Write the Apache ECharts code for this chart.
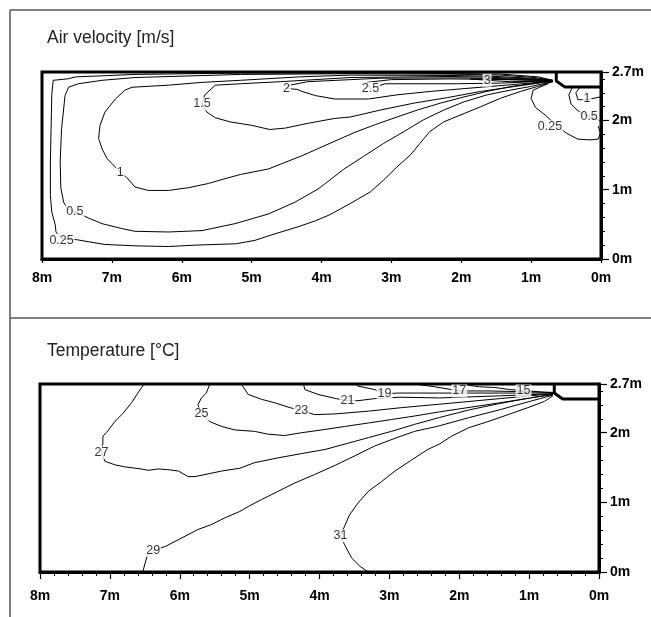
<!DOCTYPE html>
<html><head><meta charset="utf-8">
<script src="https://cdn.jsdelivr.net/npm/echarts@6/dist/echarts.min.js"></script>
<style>html,body{margin:0;padding:0;background:#fff}#c{width:651px;height:617px}</style>
</head><body><div id="c"></div>
<script>
// ---- axis ticks ----
const xTicks = [0,1,2,3,4,5,6,7,8];
const yTickLabels = [0,1,2,2.7];

// ---- Air velocity contours [x m, height m] ----
const v025 = [[0.69,2.58],[0.9,2.63],[1.44,2.67],[2.88,2.685],[4.31,2.685],[5.16,2.685],[6.67,2.665],[7.14,2.645],[7.51,2.63],[7.64,2.60],[7.84,2.58],[7.86,2.37],[7.87,1.88],[7.88,1.40],[7.88,0.92],[7.86,0.68],[7.81,0.49],[7.80,0.39],[7.72,0.29],[7.51,0.28],[7.34,0.25],[7.10,0.21],[6.67,0.19],[6.19,0.18],[5.81,0.20],[5.22,0.22],[4.95,0.27],[4.74,0.34],[4.32,0.47],[4.09,0.55],[3.88,0.64],[3.59,0.80],[3.30,0.97],[3.11,1.14],[2.92,1.33],[2.73,1.50],[2.59,1.67],[2.45,1.84],[2.25,1.98],[1.96,2.10],[1.72,2.20],[1.44,2.32],[1.15,2.42],[0.91,2.49],[0.69,2.56]];
const v05 = [[0.69,2.58],[0.95,2.62],[1.44,2.655],[2.16,2.67],[3.59,2.675],[5.16,2.665],[6.67,2.62],[7.14,2.58],[7.48,2.53],[7.62,2.48],[7.67,2.36],[7.72,1.88],[7.74,1.40],[7.73,1.02],[7.69,0.82],[7.64,0.73],[7.53,0.68],[7.33,0.59],[7.14,0.51],[6.86,0.44],[6.67,0.40],[6.19,0.39],[5.71,0.41],[5.24,0.51],[4.76,0.65],[4.38,0.82],[4.05,1.01],[3.88,1.14],[3.69,1.29],[3.40,1.48],[3.11,1.67],[2.82,1.84],[2.54,2.01],[2.25,2.15],[1.96,2.27],[1.63,2.37],[1.29,2.44],[1.01,2.49],[0.69,2.56]];
const v1 = [[0.69,2.58],[1.0,2.61],[1.6,2.64],[2.16,2.65],[3.59,2.655],[4.31,2.63],[5.16,2.58],[5.71,2.55],[6.19,2.51],[6.71,2.48],[6.81,2.44],[6.95,2.31],[7.10,2.12],[7.17,1.93],[7.19,1.74],[7.14,1.59],[7.07,1.45],[7.00,1.38],[6.88,1.25],[6.79,1.18],[6.67,1.04],[6.48,0.99],[6.19,0.99],[5.90,1.03],[5.62,1.09],[5.38,1.16],[5.16,1.22],[4.76,1.30],[4.28,1.49],[3.88,1.67],[3.52,1.83],[3.23,1.94],[2.92,2.05],[2.63,2.15],[2.30,2.25],[1.96,2.34],[1.63,2.42],[1.29,2.49],[1.01,2.53],[0.69,2.57]];
const v15 = [[0.69,2.575],[1.0,2.60],[1.6,2.625],[2.16,2.635],[3.59,2.62],[4.59,2.56],[5.16,2.53],[5.52,2.51],[5.67,2.37],[5.71,2.24],[5.64,2.12],[5.52,2.04],[5.31,1.98],[5.00,1.93],[4.74,1.87],[4.52,1.89],[4.19,1.96],[3.81,2.03],[3.59,2.05],[3.16,2.15],[2.68,2.25],[2.20,2.33],[1.72,2.42],[1.24,2.49],[0.82,2.55],[0.69,2.565]];
const v2 = [[0.69,2.575],[1.2,2.60],[2.02,2.615],[3.16,2.61],[4.2,2.56],[4.50,2.50],[4.50,2.46],[4.35,2.45],[4.28,2.42],[4.09,2.36],[3.81,2.31],[3.33,2.31],[2.92,2.37],[2.44,2.42],[1.96,2.46],[1.48,2.50],[1.01,2.54],[0.69,2.57]];
const v25 = [[0.69,2.575],[1.2,2.59],[2.16,2.60],[3.0,2.59],[3.35,2.55],[3.30,2.46],[3.09,2.53],[2.66,2.53],[2.07,2.53],[1.44,2.54],[0.69,2.57]];
const v3 = [[0.69,2.572],[1.2,2.585],[1.6,2.595],[1.87,2.60],[1.63,2.58],[1.30,2.56],[0.69,2.568]];
const vr025 = [[0.76,2.53],[0.97,2.44],[1.00,2.32],[0.94,2.19],[0.80,2.08],[0.66,1.95],[0.50,1.82],[0.33,1.73],[0.16,1.72],[0.04,1.73],[0.01,1.82],[0.04,1.92]];
const vr05 = [[0.41,2.48],[0.46,2.37],[0.43,2.24],[0.33,2.14],[0.17,2.06],[0.06,2.02],[0.01,1.99]];
const vr1 = [[0.30,2.48],[0.36,2.40],[0.33,2.30],[0.20,2.30],[0.01,2.34]];
const velocityLines = [v025, v05, v1, v15, v2, v25, v3, vr025, vr05, vr1];
const velocityLabels = [[7.72,0.27,'0.25'],[7.53,0.68,'0.5'],[6.88,1.25,'1'],[5.71,2.24,'1.5'],[4.50,2.46,'2'],[3.30,2.46,'2.5'],[1.63,2.58,'3'],[0.20,2.31,'1'],[0.17,2.06,'0.5'],[0.73,1.91,'0.25']];

// ---- Temperature contours ----
const t15 = [[0.66,2.57],[0.99,2.60],[1.28,2.62],[1.49,2.65],[1.71,2.66],[1.85,2.68],[1.92,2.70]];
const t17 = [[0.66,2.58],[1.14,2.59],[1.56,2.60],[1.99,2.60],[2.35,2.66],[2.64,2.70]];
const t19 = [[0.66,2.57],[1.42,2.57],[2.28,2.57],[2.88,2.57],[3.07,2.56],[3.21,2.62],[3.45,2.67],[3.49,2.70]];
const t21 = [[0.66,2.56],[1.42,2.53],[2.28,2.50],[2.85,2.51],[3.21,2.49],[3.45,2.46],[3.60,2.46],[3.76,2.49],[4.02,2.55],[4.21,2.62],[4.23,2.70]];
const t23 = [[0.66,2.56],[1.42,2.49],[2.28,2.41],[2.83,2.36],[3.30,2.31],[3.78,2.27],[4.07,2.26],[4.26,2.32],[4.42,2.36],[4.64,2.43],[4.83,2.48],[5.02,2.55],[5.12,2.70]];
const t25 = [[0.66,2.55],[1.42,2.43],[2.28,2.30],[2.64,2.24],[2.97,2.19],[3.30,2.14],[3.64,2.09],[3.97,2.04],[4.26,2.00],[4.50,1.96],[4.74,1.98],[4.93,2.02],[5.21,2.04],[5.40,2.09],[5.57,2.16],[5.69,2.27],[5.74,2.40],[5.69,2.50],[5.62,2.57],[5.57,2.70]];
const t27 = [[0.66,2.55],[0.99,2.50],[1.42,2.42],[1.85,2.33],[2.28,2.22],[2.64,2.12],[2.97,2.02],[3.30,1.93],[3.59,1.85],[3.92,1.76],[4.26,1.70],[4.59,1.64],[4.93,1.57],[5.14,1.49],[5.40,1.45],[5.59,1.41],[5.78,1.37],[5.88,1.37],[6.02,1.45],[6.17,1.47],[6.31,1.48],[6.45,1.46],[6.55,1.48],[6.79,1.51],[6.93,1.54],[7.07,1.59],[7.12,1.72],[7.10,1.85],[7.10,1.95],[7.05,2.00],[6.93,2.16],[6.81,2.28],[6.69,2.43],[6.60,2.57],[6.51,2.70]];
const t29 = [[0.66,2.54],[0.99,2.45],[1.42,2.33],[1.85,2.22],[2.32,2.09],[2.64,2.02],[2.92,1.92],[3.21,1.81],[3.49,1.67],[3.78,1.53],[4.07,1.40],[4.35,1.28],[4.59,1.16],[4.83,1.04],[5.02,0.94],[5.14,0.87],[5.35,0.78],[5.55,0.68],[5.74,0.61],[5.97,0.49],[6.20,0.37],[6.38,0.31],[6.47,0.22],[6.53,0]];
const t31 = [[0.66,2.53],[0.78,2.45],[1.02,2.36],[1.30,2.26],[1.59,2.16],[1.87,2.07],[2.11,1.95],[2.28,1.84],[2.45,1.76],[2.68,1.61],[2.92,1.45],[3.11,1.30],[3.30,1.16],[3.45,0.99],[3.57,0.82],[3.64,0.66],[3.70,0.52],[3.64,0.39],[3.54,0.20],[3.42,0.08],[3.30,0]];
const tempLines = [t15, t17, t19, t21, t23, t25, t27, t29, t31];
const tempLabels = [[1.08,2.60,'15'],[2.00,2.60,'17'],[3.07,2.56,'19'],[3.60,2.46,'21'],[4.26,2.32,'23'],[5.69,2.27,'25'],[7.12,1.72,'27'],[6.38,0.31,'29'],[3.70,0.52,'31']];

// ---- supply inlet outline ----
const inlet = [[0.64,2.7],[0.64,2.57],[0.52,2.485],[0,2.485]];

const FONT = 'Liberation Sans, Arial, Helvetica, sans-serif';
const chart = echarts.init(document.getElementById('c'), null, {renderer:'canvas'});

function xAx(gi, tickLen, minorLen, margin){
  return {gridIndex:gi, type:'value', min:0, max:8, interval:1, inverse:true,
    axisLine:{show:true, onZero:false, lineStyle:{color:'#000', width:3}},
    axisTick:{show:true, length:tickLen, lineStyle:{color:'#000', width:1.2}},
    minorTick:{show:true, splitNumber:5, length:minorLen, lineStyle:{color:'#000', width:1}},
    axisLabel:{show:true, formatter:'{value}m', margin:margin, fontSize:14, fontWeight:'bold', color:'#000', fontFamily:FONT},
    splitLine:{show:false}, minorSplitLine:{show:false}};
}
function yAxMajor(gi){
  return {gridIndex:gi, type:'value', position:'right', min:0, max:2.7, interval:1,
    axisLine:{show:true, onZero:false, lineStyle:{color:'#000', width:3}},
    axisTick:{show:true, length:8, lineStyle:{color:'#000', width:1.2}},
    axisLabel:{show:true, margin:11, fontSize:14, fontWeight:'bold', color:'#000', fontFamily:FONT,
      formatter:(v)=> yTickLabels.some(t=>Math.abs(t-v)<1e-6) ? v+'m' : ''},
    splitLine:{show:false}};
}
function yAxMinor(gi){
  return {gridIndex:gi, type:'value', position:'right', min:0, max:2.7, interval:0.2,
    axisLine:{show:false}, axisTick:{show:true, length:4, lineStyle:{color:'#000', width:1}},
    axisLabel:{show:false}, splitLine:{show:false}};
}

const labelStyle = {show:true, position:'inside', formatter:p=>p.data[2], color:'#000', fontSize:12.5, fontFamily:FONT, backgroundColor:'#fff', padding:[0,1,0,1]};
const series = [];
velocityLines.forEach(d=>series.push({type:'line', xAxisIndex:0, yAxisIndex:0, data:d, showSymbol:false, symbol:'none', silent:true, z:2,
  lineStyle:{color:'#000', width:1}, animation:false}));
series.push({type:'scatter', xAxisIndex:0, yAxisIndex:0, data:velocityLabels, symbolSize:1, itemStyle:{color:'rgba(0,0,0,0)'}, z:5, silent:true, animation:false, label:labelStyle});
series.push({type:'line', xAxisIndex:0, yAxisIndex:0, data:inlet, showSymbol:false, symbol:'none', z:6, silent:true, animation:false, lineStyle:{color:'#000', width:3}});

tempLines.forEach(d=>series.push({type:'line', xAxisIndex:1, yAxisIndex:2, data:d, showSymbol:false, symbol:'none', silent:true, z:2,
  lineStyle:{color:'#000', width:1}, animation:false}));
series.push({type:'scatter', xAxisIndex:1, yAxisIndex:2, data:tempLabels, symbolSize:1, itemStyle:{color:'rgba(0,0,0,0)'}, z:5, silent:true, animation:false, label:labelStyle});
series.push({type:'line', xAxisIndex:1, yAxisIndex:2, data:inlet, showSymbol:false, symbol:'none', z:6, silent:true, animation:false, lineStyle:{color:'#000', width:3}});

chart.setOption({
  animation:false,
  backgroundColor:'#fff',
  title:[
    {text:'Air velocity [m/s]', left:47, top:29, padding:0, textStyle:{fontSize:17.5, fontWeight:'normal', color:'#222', fontFamily:FONT}},
    {text:'Temperature [°C]', left:47, top:342, padding:0, textStyle:{fontSize:17.5, fontWeight:'normal', color:'#222', fontFamily:FONT}}
  ],
  grid:[
    {left:42, top:72, width:559, height:187, show:true, borderWidth:3, borderColor:'#000', backgroundColor:'#fff', containLabel:false, outerBoundsMode:'none'},
    {left:40, top:384, width:559, height:188, show:true, borderWidth:3, borderColor:'#000', backgroundColor:'#fff', containLabel:false, outerBoundsMode:'none'}
  ],
  xAxis:[xAx(0,4,2,12), xAx(1,7,4,17)],
  yAxis:[yAxMajor(0), yAxMinor(0), yAxMajor(1), yAxMinor(1)],
  graphic:[
    {type:'line', shape:{x1:10,y1:10,x2:651,y2:10}, style:{stroke:'#555', lineWidth:1.5}, silent:true},
    {type:'line', shape:{x1:10,y1:10,x2:10,y2:617}, style:{stroke:'#555', lineWidth:1.5}, silent:true},
    {type:'line', shape:{x1:10,y1:318,x2:651,y2:318}, style:{stroke:'#555', lineWidth:1.5}, silent:true}
  ],
  series: series
});
</script>
</body></html>
